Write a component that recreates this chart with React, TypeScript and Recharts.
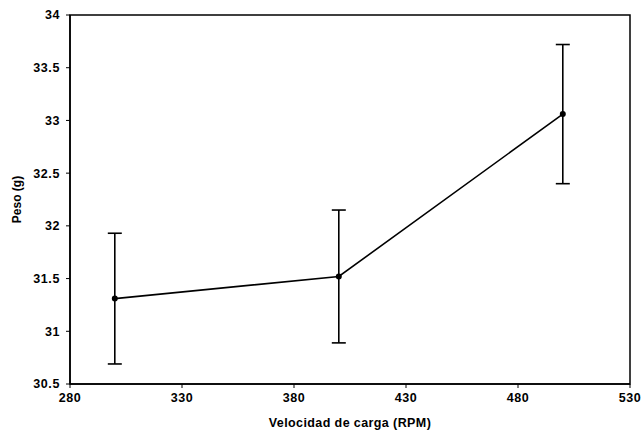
import {
  ErrorBar,
  Line,
  LineChart,
  ReferenceArea,
  XAxis,
  YAxis,
} from "recharts";

const speeds = [300, 400, 500];
const weights = [31.31, 31.52, 33.06];
const errors = [0.62, 0.63, 0.66];
const xTicks = [280, 330, 380, 430, 480, 530];
const yTicks = [30.5, 31, 31.5, 32, 32.5, 33, 33.5, 34];

const chartData = speeds.map((s, i) => ({
  rpm: s,
  peso: weights[i],
  err: errors[i],
}));

const FONT = "'Liberation Sans', Arial, sans-serif";
const tickStyle = {
  fill: "#000",
  fontSize: 12.5,
  fontWeight: 700,
  fontFamily: FONT,
  letterSpacing: 0.6,
};

function App() {
  return (
    <div style={{ position: "absolute", left: 0, top: 0, background: "#fff" }}>
      <LineChart
        width={641}
        height={432}
        data={chartData}
        margin={{ top: 15, right: 11, left: 0, bottom: 0 }}
      >
        <XAxis
          dataKey="rpm"
          type="number"
          domain={[280, 530]}
          ticks={xTicks}
          interval={0}
          height={48}
          tick={tickStyle}
          tickSize={4}
          tickMargin={5}
          stroke="#000"
          axisLine={{ stroke: "#000", strokeWidth: 1.5 }}
          tickLine={{ stroke: "#000" }}
          label={{
            value: "Velocidad de carga (RPM)",
            position: "insideBottom",
            offset: 5,
            style: { ...tickStyle, fontSize: 12.5, letterSpacing: 0.4 },
          }}
        />
        <YAxis
          type="number"
          domain={[30.5, 34]}
          ticks={yTicks}
          interval={0}
          width={70}
          tick={tickStyle}
          tickSize={4}
          tickMargin={6}
          stroke="#000"
          axisLine={{ stroke: "#000", strokeWidth: 1.5 }}
          tickLine={{ stroke: "#000" }}
          label={{
            value: "Peso (g)",
            angle: -90,
            position: "insideLeft",
            offset: 17,
            style: { ...tickStyle, fontSize: 12, letterSpacing: 0, textAnchor: "middle" },
          }}
        />
        <ReferenceArea
          x1={280}
          x2={530}
          y1={30.5}
          y2={34}
          fill="none"
          stroke="#000"
          strokeWidth={1.5}
          fillOpacity={0}
        />
        <Line
          dataKey="peso"
          stroke="#000"
          strokeWidth={1.6}
          dot={{ r: 2.2, fill: "#000", stroke: "#000" }}
          activeDot={false}
          isAnimationActive={false}
        >
          <ErrorBar
            dataKey="err"
            width={7}
            stroke="#000"
            strokeWidth={1.6}
            direction="y"
            isAnimationActive={false}
          />
        </Line>
      </LineChart>
    </div>
  );
}

export default App;
